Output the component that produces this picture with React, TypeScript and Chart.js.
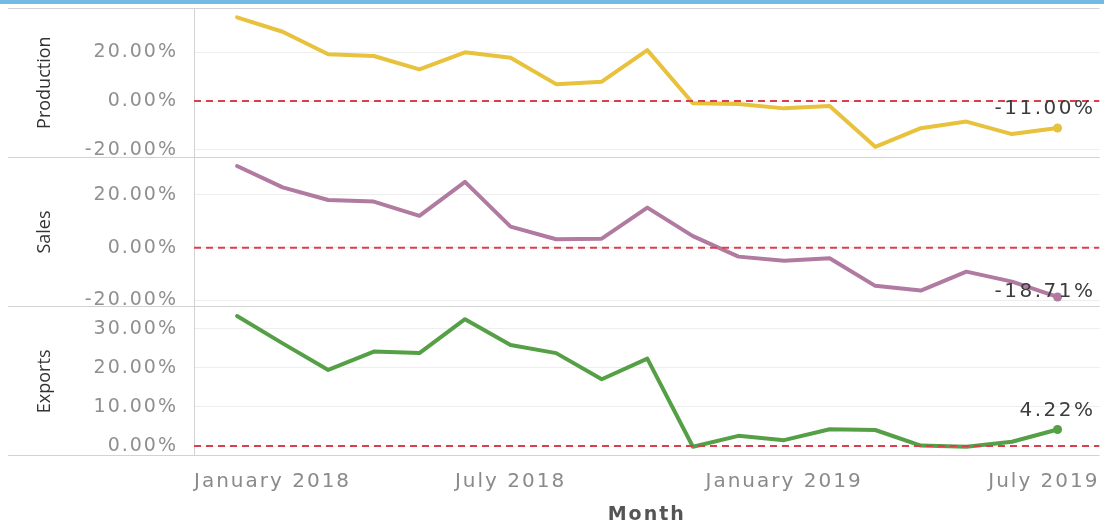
import React, { useEffect, useRef } from 'react';
import { Chart, registerables } from 'chart.js';

Chart.register(...registerables);

// ---------- data ----------
const MONTHS = [
  'January 2018', 'February 2018', 'March 2018', 'April 2018', 'May 2018', 'June 2018',
  'July 2018', 'August 2018', 'September 2018', 'October 2018', 'November 2018', 'December 2018',
  'January 2019', 'February 2019', 'March 2019', 'April 2019', 'May 2019', 'June 2019', 'July 2019',
];
const PRODUCTION = [34.2, 28.3, 19.1, 18.4, 12.9, 19.9, 17.7, 6.9, 7.9, 20.8, -0.9, -1.2, -3.0, -2.0, -18.7, -11.1, -8.4, -13.5, -11.0];
const SALES = [31.0, 22.9, 18.1, 17.5, 12.1, 25.0, 8.0, 3.2, 3.4, 15.2, 4.4, -3.4, -5.0, -4.0, -14.5, -16.3, -9.1, -12.9, -18.71];
const EXPORTS = [33.3, 26.3, 19.5, 24.2, 23.8, 32.5, 25.9, 23.8, 17.1, 22.4, -0.2, 2.6, 1.5, 4.3, 4.1, 0.1, -0.2, 1.1, 4.22];

const X_TICK_LABELS = ['January 2018', 'July 2018', 'January 2019', 'July 2019'];
const PRODUCTION_TICKS = [-20, 0, 20];
const SALES_TICKS = [-20, 0, 20];
const EXPORTS_TICKS = [0, 10, 20, 30];
const REFERENCE_VALUE = 0;

// axis ranges
const X_RANGE = [-0.945, 18.92];
const PRODUCTION_RANGE = [-23, 38];
const SALES_RANGE = [-22.4, 34.3];
const EXPORTS_RANGE = [-2.56, 35.7];

// ---------- styles ----------
const SERIES = [
  { name: 'Production', values: PRODUCTION, ticks: PRODUCTION_TICKS, range: PRODUCTION_RANGE, color: '#e8c13d', axis: 'yP', labelDy: -19 },
  { name: 'Sales', values: SALES, ticks: SALES_TICKS, range: SALES_RANGE, color: '#b07aa1', axis: 'yS', labelDy: -5 },
  { name: 'Exports', values: EXPORTS, ticks: EXPORTS_TICKS, range: EXPORTS_RANGE, color: '#55a047', axis: 'yE', labelDy: -19 },
];

const BORDER_GRAY = '#d2d2d2';
const GRID_GRAY = '#eeeeee';
const WIDE = '2px';

function isEdge(ctx: any) {
  const n = ctx.scale && ctx.scale.ticks ? ctx.scale.ticks.length : 0;
  return ctx.index === 0 || ctx.index === n - 1;
}

function yAxis(s: any) {
  return {
    type: 'linear',
    position: 'left',
    stack: 'panels',
    stackWeight: 1,
    min: s.range[0],
    max: s.range[1],
    afterBuildTicks: (scale: any) => {
      scale.ticks = [s.range[0], ...s.ticks, s.range[1]].map((v: number) => ({ value: v }));
    },
    afterFit: (scale: any) => {
      scale.width = 194;
      scale.paddingTop = 0;
      scale.paddingBottom = 0;
    },
    ticks: {
      autoSkip: false,
      callback: (v: number, i: number, arr: any[]) =>
        i === 0 || i === arr.length - 1 ? '' : Number(v).toFixed(2) + '%',
      font: { family: 'DejaVu Sans', size: 19 },
      color: '#8f8f8f',
      padding: -170,
      z: 1,
    },
    grid: {
      color: (ctx: any) => (isEdge(ctx) ? BORDER_GRAY : GRID_GRAY),
      tickColor: (ctx: any) => (isEdge(ctx) ? BORDER_GRAY : 'rgba(0,0,0,0)'),
      drawTicks: true,
      tickLength: 186,
      lineWidth: 1,
      z: -1,
    },
    border: { display: true, color: BORDER_GRAY, width: 1 },
    title: {
      display: true,
      text: s.name,
      font: { family: 'Open Sans', size: 18 },
      color: '#333333',
      padding: { top: 34, bottom: 0 },
    },
  };
}

const endLabelPlugin = {
  id: 'endLabels',
  beforeDraw(chart: any) {
    chart.ctx.letterSpacing = '0px';
  },
  afterDatasetsDraw(chart: any) {
    const ctx = chart.ctx;
    const right = chart.chartArea.right;
    SERIES.forEach((s, di) => {
      const meta = chart.getDatasetMeta(di);
      const pt = meta.data[meta.data.length - 1];
      if (!pt) return;
      const value = s.values[s.values.length - 1];
      const text = value.toFixed(2) + '%';
      ctx.save();
      ctx.font = '20px "DejaVu Sans"';
      ctx.letterSpacing = '2.5px';
      ctx.fillStyle = '#3d3d3d';
      ctx.textBaseline = 'middle';
      ctx.textAlign = 'center';
      const w = ctx.measureText(text).width;
      const cx = Math.min(pt.x, right - 4 - w / 2);
      ctx.fillText(text, cx, pt.y + s.labelDy);
      ctx.restore();
    });
    // text drawn after the datasets (tick labels, x title) uses the wide spacing
    ctx.letterSpacing = WIDE;
  },
  afterDraw(chart: any) {
    chart.ctx.letterSpacing = '0px';
  },
};

export default function App() {
  const canvasRef = useRef<HTMLCanvasElement | null>(null);

  useEffect(() => {
    if (!canvasRef.current) return;

    const lineSets = SERIES.map((s) => ({
      label: s.name,
      data: s.values.map((v, i) => ({ x: i, y: v })),
      yAxisID: s.axis,
      xAxisID: 'x',
      borderColor: s.color,
      backgroundColor: s.color,
      borderWidth: 4,
      tension: 0,
      borderJoinStyle: 'round',
      borderCapStyle: 'round',
      pointRadius: (ctx: any) => (ctx.dataIndex === s.values.length - 1 ? 4.5 : 0),
      pointHoverRadius: 0,
      pointBorderWidth: 0,
      order: 1,
    }));

    const zeroSets = SERIES.map((s) => ({
      label: s.name + ' reference',
      data: [
        { x: X_RANGE[0], y: REFERENCE_VALUE },
        { x: X_RANGE[1], y: REFERENCE_VALUE },
      ],
      yAxisID: s.axis,
      xAxisID: 'x',
      borderColor: '#d9404f',
      borderWidth: 2,
      borderDash: [7, 5],
      pointRadius: 0,
      order: 0,
    }));

    const xTickValues = X_TICK_LABELS.map((l, i) =>
      i === 0 ? X_RANGE[0] : i === X_TICK_LABELS.length - 1 ? X_RANGE[1] : MONTHS.indexOf(l)
    );

    const scales: any = {
      x: {
        type: 'linear',
        position: 'bottom',
        min: X_RANGE[0],
        max: X_RANGE[1],
        afterBuildTicks: (scale: any) => {
          scale.ticks = xTickValues.map((v) => ({ value: v }));
        },
        afterFit: (scale: any) => {
          scale.height = 70;
          scale.paddingLeft = 0;
          scale.paddingRight = 0;
        },
        ticks: {
          autoSkip: false,
          maxRotation: 0,
          align: 'inner',
          callback: (_v: number, i: number) => X_TICK_LABELS[i],
          font: { family: 'DejaVu Sans', size: 20 },
          color: '#8a8a8a',
          padding: 14,
          z: 1,
        },
        grid: { display: false, drawTicks: false, z: 1 },
        border: { display: false },
        title: {
          display: true,
          text: 'Month',
          font: { family: 'DejaVu Sans', size: 19, weight: 'bold' },
          color: '#555555',
          padding: { top: 0, bottom: 0 },
        },
      },
    };
    // stacked axes are laid out bottom-up, so add them in reverse order
    [...SERIES].reverse().forEach((s) => {
      scales[s.axis] = yAxis(s);
    });

    const chart = new Chart(canvasRef.current, {
      type: 'line',
      data: { datasets: [...lineSets, ...zeroSets] as any },
      options: {
        animation: false,
        responsive: false,
        devicePixelRatio: 1,
        layout: { padding: { top: 8, left: 0, right: 0, bottom: 0 } },
        plugins: {
          legend: { display: false },
          tooltip: { enabled: false },
        },
        scales,
      } as any,
      plugins: [endLabelPlugin],
    });

    return () => chart.destroy();
  }, []);

  return (
    <div style={{ position: 'absolute', left: 0, top: 0, width: 1104, height: 526, background: '#ffffff' }}>
      <canvas ref={canvasRef} width={1104} height={526} style={{ display: 'block', width: 1104, height: 526 }} />
      <div style={{ position: 'absolute', left: 0, top: 0, width: 1104, height: 4, background: '#72b9e4' }} />
    </div>
  );
}
